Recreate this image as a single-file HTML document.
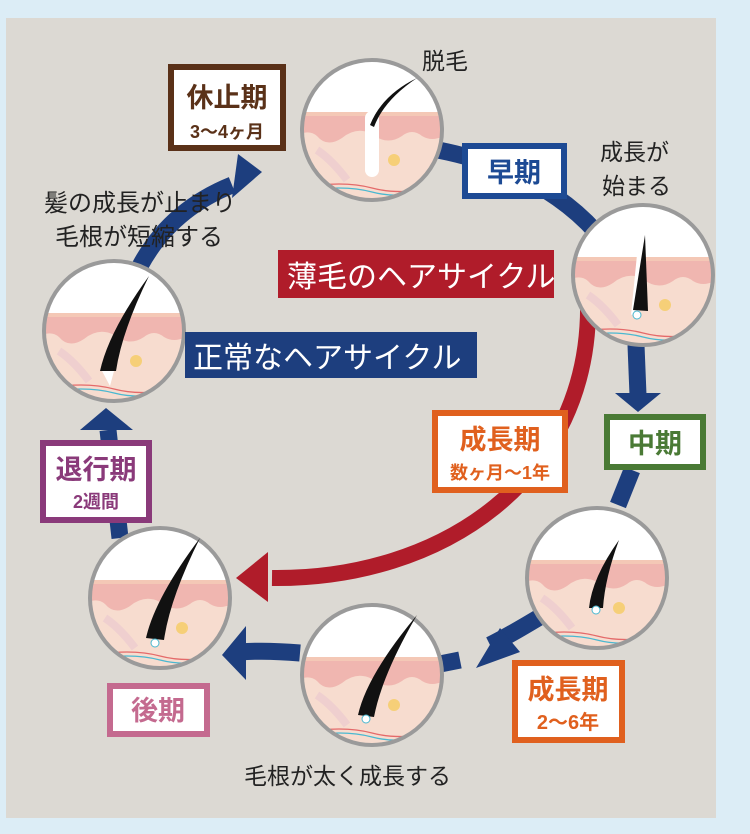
<!DOCTYPE html>
<html><head><meta charset="utf-8"><style>
html,body{margin:0;padding:0;background:#dcedf6;}
svg{display:block}
text{font-family:"Liberation Sans","Noto Sans CJK JP",sans-serif;}
</style></head><body>
<svg width="750" height="834" viewBox="0 0 750 834" xmlns="http://www.w3.org/2000/svg">
<defs>
<clipPath id="cc"><circle cx="0" cy="0" r="70"/></clipPath>
<g id="skin">
 <g clip-path="url(#cc)">
  <rect x="-72" y="-72" width="144" height="144" fill="#fff"/>
  <rect x="-72" y="-16" width="144" height="90" fill="#f7dccf"/>
  <path d="M-72,-16 H72 V6 Q60,12 50,6 Q40,-2 30,6 Q15,16 0,4 Q-15,-4 -30,8 Q-45,18 -55,6 Q-62,0 -72,4 Z" fill="#f0b6b0"/>
  <rect x="-72" y="-18" width="144" height="4" fill="#f4c8b6"/>
  <path d="M-55,20 Q-40,30 -25,50" stroke="#efcfcf" stroke-width="8" fill="none"/>
  <circle cx="22" cy="30" r="6" fill="#f6cf78"/>
  <path d="M-72,58 Q-30,50 0,58 T72,56" stroke="#e46a6a" stroke-width="1.3" fill="none"/>
  <path d="M-72,62 Q-30,54 0,62 T72,58" stroke="#4ab8d0" stroke-width="1.3" fill="none"/>
 </g>
 <circle cx="0" cy="0" r="70" fill="none" stroke="#9a9a9a" stroke-width="4"/>
</g>
</defs>
<rect x="6" y="18" width="710" height="800" fill="#dcd9d3"/>

<g stroke="#1d3e7e" stroke-width="17" fill="none">
 <path d="M438,150 Q540,170 596,232"/>
 <path d="M636,345 L638,395"/>
 <path d="M632,470 L618,505"/>
 <path d="M543,615 Q510,635 490,645"/>
 <path d="M460,660 L440,664"/>
 <path d="M300,653 Q265,650 240,652"/>
 <path d="M120,538 L108,430"/>
 <path d="M140,266 Q170,210 232,185"/>
</g>
<g fill="#1d3e7e">
 <polygon points="615,393 661,393 638,412"/>
 <polygon points="476,668 500,628 520,652"/>
 <polygon points="222,655 246,626 246,680"/>
 <polygon points="80,430 133,430 106,408"/>
 <polygon points="238,154 262,172 232,198"/>
</g>
<path d="M588,300 C592,480 440,580 272,578" stroke="#b01c2a" stroke-width="16" fill="none"/>
<polygon points="236,578 268,552 268,602" fill="#b01c2a"/>

<g transform="translate(372,130)"><use href="#skin"/>
 <path d="M0,-12 L0,40" stroke="#fff" stroke-width="14" stroke-linecap="round"/>
 <path d="M-2,-5 Q10,-35 45,-52 Q12,-30 2,-3 Z" fill="#111"/></g>
<g transform="translate(643,275)"><use href="#skin"/>
 <path d="M2,-60 L-8,40" stroke="#fff" stroke-width="8"/>
 <path d="M2,-40 L-10,35 L5,36 Z" fill="#111"/><circle cx="-6" cy="40" r="4" fill="#fff" stroke="#4ab8d0"/></g>
<g transform="translate(597,578)"><use href="#skin"/>
 <path d="M22,-38 Q-5,0 -8,30 L6,30 Q8,0 22,-38 Z" fill="#111"/><circle cx="-1" cy="32" r="4" fill="#fff" stroke="#4ab8d0"/></g>
<g transform="translate(372,675)"><use href="#skin"/>
 <path d="M45,-60 Q-5,0 -14,40 L2,42 Q10,0 45,-60 Z" fill="#111"/><circle cx="-6" cy="44" r="4" fill="#fff" stroke="#4ab8d0"/></g>
<g transform="translate(160,598)"><use href="#skin"/>
 <path d="M40,-60 Q-5,0 -14,40 L4,42 Q10,0 40,-60 Z" fill="#111"/><circle cx="-5" cy="45" r="4" fill="#fff" stroke="#4ab8d0"/></g>
<g transform="translate(114,331)"><use href="#skin"/>
 <path d="M35,-55 Q-5,0 -14,40 L2,40 Q8,0 35,-55 Z" fill="#111"/><path d="M-12,40 L0,40 L-4,55 Z" fill="#fff"/></g>

<rect x="278" y="250" width="276" height="48" fill="#b01c2a"/>
<text x="287" y="287" font-size="30" fill="#fff">薄毛のヘアサイクル</text>
<rect x="185" y="332" width="292" height="46" fill="#1d3e7e"/>
<text x="193" y="368" font-size="30" fill="#fff">正常なヘアサイクル</text>

<g font-weight="bold" text-anchor="middle">
 <rect x="171" y="67" width="112" height="81" fill="#fff" stroke="#5a3118" stroke-width="6"/>
 <text x="227" y="107" font-size="27" fill="#5a3118">休止期</text>
 <text x="227" y="138" font-size="18" fill="#5a3118">3〜4ヶ月</text>
 <rect x="465" y="146" width="99" height="50" fill="#fff" stroke="#1d4a94" stroke-width="6"/>
 <text x="514" y="182" font-size="27" fill="#1d4a94">早期</text>
 <rect x="607" y="417" width="96" height="50" fill="#fff" stroke="#4a7a35" stroke-width="6"/>
 <text x="655" y="453" font-size="27" fill="#4a7a35">中期</text>
 <rect x="435" y="413" width="130" height="77" fill="#fff" stroke="#e0601e" stroke-width="6"/>
 <text x="500" y="449" font-size="27" fill="#e0601e">成長期</text>
 <text x="500" y="479" font-size="18" fill="#e0601e">数ヶ月〜1年</text>
 <rect x="515" y="663" width="107" height="77" fill="#fff" stroke="#e0601e" stroke-width="6"/>
 <text x="568" y="699" font-size="27" fill="#e0601e">成長期</text>
 <text x="568" y="729" font-size="20" fill="#e0601e">2〜6年</text>
 <rect x="110" y="686" width="97" height="48" fill="#fff" stroke="#c46a8f" stroke-width="6"/>
 <text x="158" y="720" font-size="27" fill="#c46a8f">後期</text>
 <rect x="43" y="443" width="106" height="77" fill="#fff" stroke="#8a3a7a" stroke-width="6"/>
 <text x="96" y="479" font-size="27" fill="#8a3a7a">退行期</text>
 <text x="96" y="508" font-size="18" fill="#8a3a7a">2週間</text>
</g>

<g font-size="23" fill="#222">
 <text x="422" y="69">脱毛</text>
 <text x="600" y="160">成長が</text>
 <text x="602" y="194">始まる</text>
 <text x="44" y="211" font-size="24">髪の成長が止まり</text>
 <text x="55" y="245" font-size="24">毛根が短縮する</text>
 <text x="244" y="784">毛根が太く成長する</text>
</g>
</svg>
</body></html>
